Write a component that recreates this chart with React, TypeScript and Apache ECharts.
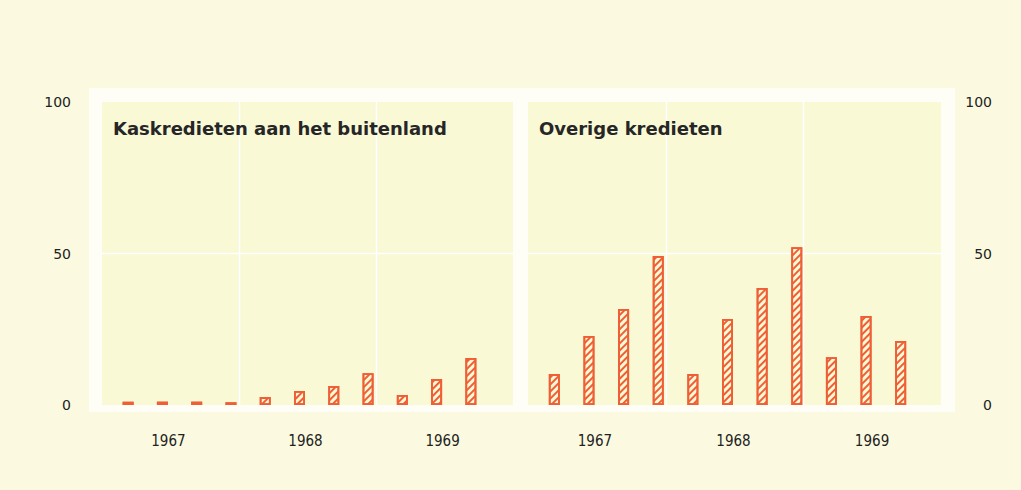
import React, { useEffect, useRef } from "react";
import * as echarts from "echarts";

const quarters = [
  "1967 I", "1967 II", "1967 III", "1967 IV",
  "1968 I", "1968 II", "1968 III", "1968 IV",
  "1969 I", "1969 II", "1969 III",
];
const yearTickLabels = ["", "1967", "", "", "", "1968", "", "", "", "1969", ""];
const kaskredieten = [1.1, 1.1, 1.1, 0.9, 2.6, 4.6, 6.3, 10.5, 3.3, 8.6, 15.5];
const overige = [10.2, 22.8, 31.7, 49.2, 10.2, 28.4, 38.6, 52.1, 15.8, 29.4, 21.1];
const yTicks = [0, 50, 100];
const titles = ["Kaskredieten aan het buitenland", "Overige kredieten"];

const BG = "#fbfae0";
const PANEL = "#f9f9d6";
const FRAME = "#fefef6";
const BAR = "#ef5f36";

export default function App() {
  const ref = useRef<HTMLDivElement>(null);
  useEffect(() => {
    const chart = echarts.init(ref.current!, undefined, { renderer: "svg" });
    const decal = {
      symbol: "rect",
      symbolSize: 1,
      dashArrayX: [1, 0],
      dashArrayY: [1.5, 2.5],
      rotation: -Math.PI / 4,
      color: BAR,
      backgroundColor: "rgba(0,0,0,0)",
    };
    const panels = [
      { x: 102, w: 411 },
      { x: 528, w: 413 },
    ];
    const graphics: any[] = [
      { type: "rect", shape: { x: 89, y: 88, width: 866, height: 324 }, style: { fill: FRAME }, z: -10 },
    ];
    panels.forEach((p, i) => {
      graphics.push({ type: "rect", shape: { x: p.x, y: 102, width: p.w, height: 303 }, style: { fill: PANEL }, z: -9 });
      for (let k = 1; k < 3; k++) {
        const lx = Math.round(p.x + (p.w * k) / 3) + 0.5;
        graphics.push({ type: "line", shape: { x1: lx, y1: 102, x2: lx, y2: 405 }, style: { stroke: "#ffffff", lineWidth: 1.5 }, z: -8 });
      }
      graphics.push({ type: "line", shape: { x1: p.x, y1: 253.5, x2: p.x + p.w, y2: 253.5 }, style: { stroke: "#ffffff", lineWidth: 1.5 }, z: -8 });
      graphics.push({
        type: "text",
        left: p.x + 11,
        top: 119,
        style: { text: titles[i], fill: "#262626", font: "bold 18px 'DejaVu Sans'" },
        z: 5,
      });
    });

    const yAxisCommon = {
      type: "value",
      min: 0,
      max: 100,
      interval: 50,
      axisLine: { show: false },
      axisTick: { show: false },
      splitLine: { show: false },
    };
    const xAxisCommon = (gi: number) => ({
      type: "category",
      gridIndex: gi,
      data: quarters,
      axisLine: { show: false },
      axisTick: { show: false },
      axisLabel: {
        interval: 0,
        margin: 28,
        color: "#222",
        fontFamily: "DejaVu Sans Condensed",
        fontSize: 15,
        padding: [0, 0, 0, 12],
        formatter: (_v: string, idx: number) => yearTickLabels[idx],
      },
    });
    const barSeries = (gi: number, data: number[]) => ({
      type: "bar",
      xAxisIndex: gi,
      yAxisIndex: gi,
      data,
      barWidth: 11,
      itemStyle: { color: PANEL, borderColor: BAR, borderWidth: 1.8, decal },
    });

    chart.setOption({
      animation: false,
      backgroundColor: BG,
      grid: [
        { left: 111, width: 377, top: 102, height: 303 },
        { left: 537, width: 381, top: 102, height: 303 },
      ],
      xAxis: [xAxisCommon(0), xAxisCommon(1)],
      yAxis: [
        {
          ...yAxisCommon,
          gridIndex: 0,
          position: "left",
          axisLabel: {
            margin: 40,
            color: "#222",
            fontFamily: "DejaVu Sans",
            fontSize: 14,
            formatter: (v: number) => (yTicks.includes(v) ? String(v) : ""),
          },
        },
        {
          ...yAxisCommon,
          gridIndex: 1,
          position: "right",
          axisLabel: {
            margin: 74,
            align: "right",
            color: "#222",
            fontFamily: "DejaVu Sans",
            fontSize: 14,
            formatter: (v: number) => (yTicks.includes(v) ? String(v) : ""),
          },
        },
      ],
      graphic: graphics,
      series: [barSeries(0, kaskredieten), barSeries(1, overige)],
    });
    return () => chart.dispose();
  }, []);
  return (
    <div
      ref={ref}
      style={{ position: "fixed", left: 0, top: 0, width: 1021, height: 490 }}
    />
  );
}
